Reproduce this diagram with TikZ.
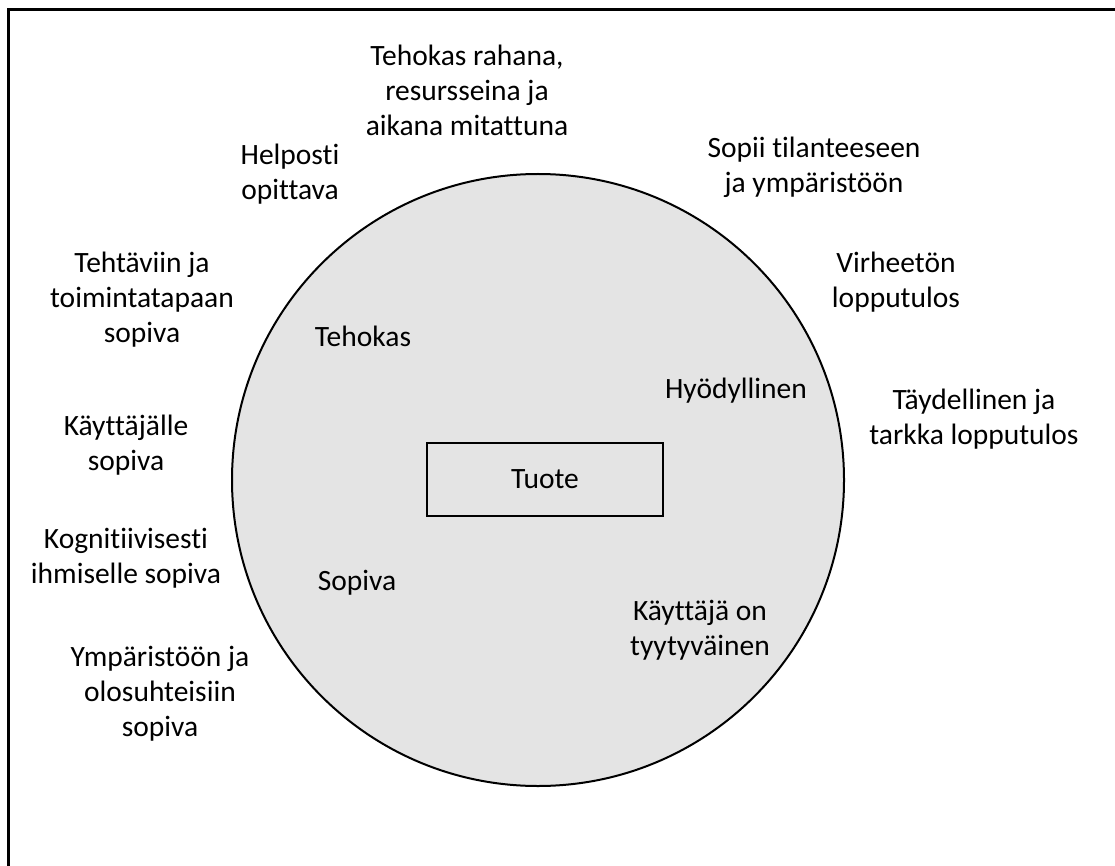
\documentclass[tikz,border=0pt]{standalone}
\usepackage{fontspec}
\setmainfont{Carlito}[Ligatures=NoCommon]
\usepackage{tikz}
\usetikzlibrary{positioning}
\definecolor{circfill}{RGB}{228,228,228}

\begin{document}
\begin{tikzpicture}[x=1pt, y=-1pt,
    lbl/.style={align=center, anchor=base, inner sep=0pt, font=\fontsize{29.5}{35}\selectfont},
    tuotebox/.style={draw, line width=2pt, minimum width=236pt, minimum height=73pt, font=\fontsize{29.5}{35}\selectfont}]
\useasboundingbox (0,0) rectangle (1115,866);
% frame (only top and left sides are visible)
\draw[line width=3pt] (8.5,866) -- (8.5,9.5) -- (1115,9.5);

\node[circle, draw, fill=circfill, line width=2pt, inner sep=0pt, minimum size=612pt] (tuotepiiri) at (538,480) {};
\node[tuotebox] (tuote) at (545,479.5) {Tuote};

% inside the circle
\node[lbl] (tehokas) at (363,346) {Tehokas};
\node[lbl] (hyodyllinen) at (736,398) {Hyödyllinen};
\node[lbl] (sopiva) at (357,590) {Sopiva};
\node[lbl] (tyytyvainen) at (700,655) {Käyttäjä on\\tyytyväinen};

% around the circle (base = last line)
\node[lbl] (rahana) at (467,136) {Tehokas rahana,\\resursseina ja\\aikana mitattuna};
\node[lbl] (helposti) at (290,200) {Helposti\\opittava};
\node[lbl] (tilanne) at (814,193) {Sopii tilanteeseen\\ja ympäristöön};
\node[lbl] (virheeton) at (896,308) {Virheetön\\lopputulos};
\node[lbl] (tarkka) at (974,444) {Täydellinen ja\\tarkka lopputulos};
\node[lbl] (tehtaviin) at (142,342) {Tehtäviin ja\\toimintatapaan\\sopiva};
\node[lbl] (kayttajalle) at (126,470) {Käyttäjälle\\sopiva};
\node[lbl] (kognitiivinen) at (126,583) {Kognitiivisesti\\ihmiselle sopiva};
\node[lbl] (olosuhteet) at (160,736) {Ympäristöön ja\\olosuhteisiin\\sopiva};
\end{tikzpicture}
\end{document}
